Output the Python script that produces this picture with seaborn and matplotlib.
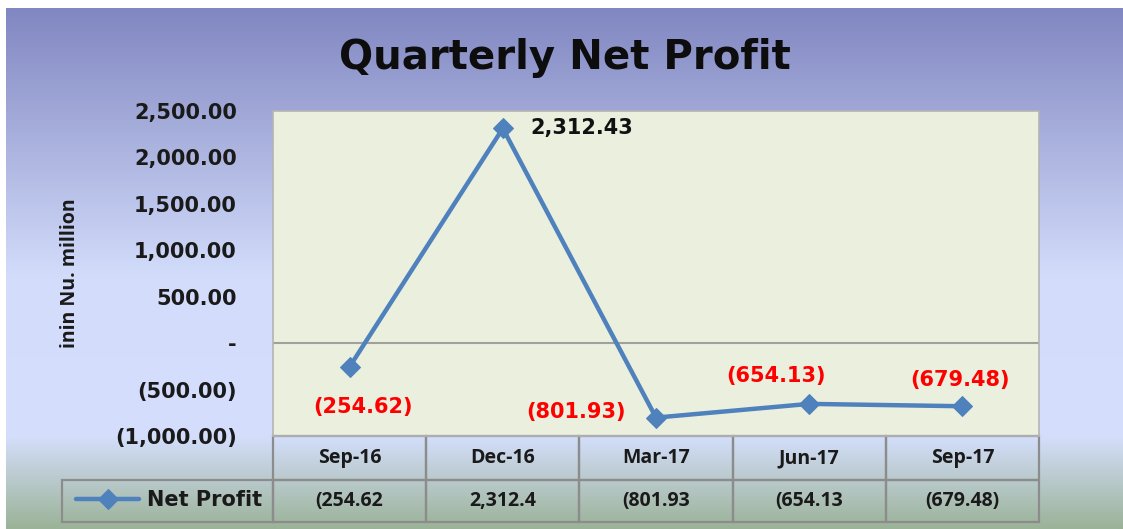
import numpy as np
import matplotlib
matplotlib.use("Agg")
import matplotlib.pyplot as plt
from matplotlib.colors import LinearSegmentedColormap
from matplotlib.table import Table
from matplotlib.ticker import FuncFormatter
import seaborn as sns

# data
quarters = ["Sep-16", "Dec-16", "Mar-17", "Jun-17", "Sep-17"]
net_profit = [-254.62, 2312.43, -801.93, -654.13, -679.48]
# the data table row shows the values cut off like this in the original
table_text = ["(254.62", "2,312.4", "(801.93", "(654.13", "(679.48)"]
series_name = "Net Profit"
y_ticks = [-1000, -500, 0, 500, 1000, 1500, 2000, 2500]

# label offsets in pixels (dx, dy) and horizontal alignment per point
label_offsets = [(13, -40), (28, 0), (-30, 6), (-33, 28), (-2, 26)]
label_align = ["center", "left", "right", "center", "center"]

line_color = "#4F81BD"
W, H = 1123, 529
narrow_font = ["Open Sans", "DejaVu Sans"]


def fmt_num(v, pos=None):
    if v == 0:
        return "-"
    s = f"{abs(v):,.2f}"
    return f"({s})" if v < 0 else s


sns.set_theme(style="white")
plt.rcParams["font.family"] = ["DejaVu Sans"]

fig = plt.figure(figsize=(W / 100, H / 100), dpi=100)
fig.patch.set_facecolor("white")

# gradient background of the chart area
bg = fig.add_axes([6 / W, 0, 1 - 6 / W, 1 - 8 / H], zorder=-10)
cmap = LinearSegmentedColormap.from_list(
    "bg", [(0.0, "#8187C1"), (0.52, "#D3DDFB"), (0.82, "#D5DFFD"), (1.0, "#9BB398")])
grad = np.linspace(0, 1, 256).reshape(-1, 1)
bg.imshow(grad, cmap=cmap, aspect="auto", extent=[0, 1, 0, 1], origin="upper")
bg.set_axis_off()

# plot area
ax_l, ax_r, ax_t, ax_b = 273, 1039, 111, 436
ax = fig.add_axes([ax_l / W, 1 - ax_b / H, (ax_r - ax_l) / W, (ax_b - ax_t) / H])
ax.set_facecolor("#EBEFDD")

x = np.arange(len(quarters))
sns.lineplot(x=x, y=net_profit, ax=ax, sort=False, color=line_color, linewidth=3.2,
             marker="D", markersize=10, markeredgecolor=line_color,
             label=series_name, zorder=3)
ax.axhline(0, color="#A0A0A0", linewidth=1.5, zorder=1)

ax.set_xlim(-0.5, len(quarters) - 0.5)
ax.set_ylim(-1000, 2500)
ax.set_xticks([])
ax.set_yticks(y_ticks)
ax.yaxis.set_major_formatter(FuncFormatter(fmt_num))
ax.tick_params(axis="y", length=0, pad=26, labelsize=15, colors="#1a1a1a")
for t in ax.get_yticklabels():
    t.set_fontweight("bold")
for sp in ax.spines.values():
    sp.set_color("#B4B4B4")
    sp.set_linewidth(1.2)

ax.set_ylabel("inin Nu. million", fontsize=14, fontweight="bold", family=narrow_font,
              color="#1a1a1a")
ax.yaxis.set_label_coords((80 - ax_l) / (ax_r - ax_l), 0.5)

# data labels
for xi, v, off, ha in zip(x, net_profit, label_offsets, label_align):
    ax.annotate(fmt_num(v), (xi, v), xytext=off, textcoords="offset pixels",
                ha=ha, va="center", fontsize=15, fontweight="bold",
                color="#FF0000" if v < 0 else "#111111", zorder=4)

# data table under the plot
col_w = (ax_r - ax_l) / len(quarters)
tbl = Table(ax, bbox=[(62 - ax_l) / (ax_r - ax_l), -(522 - ax_b) / (ax_b - ax_t),
                      (ax_r - 62) / (ax_r - ax_l), (522 - ax_b) / (ax_b - ax_t)])
for j, q in enumerate(quarters):
    tbl.add_cell(0, j + 1, width=col_w, height=44, text=q, loc="center", facecolor="none")
    tbl.add_cell(1, j + 1, width=col_w, height=42, text=table_text[j], loc="center", facecolor="none")
tbl.add_cell(1, 0, width=211, height=42, text="", facecolor="none")
tbl.auto_set_font_size(False)
tbl.set_fontsize(14)
for cell in tbl.get_celld().values():
    cell.set_edgecolor("#8C8C8C")
    cell.set_linewidth(1.6)
    cell.get_text().set_fontweight("bold")
    cell.get_text().set_family(narrow_font)
    cell.get_text().set_color("#1a1a1a")
tbl.set_clip_on(False)
ax.add_table(tbl)

# legend key inside the first table cell
leg = ax.legend(loc="center left", bbox_to_anchor=(66 / W, 1 - 500 / H),
                bbox_transform=fig.transFigure, frameon=False, handlelength=3.0,
                handletextpad=0.4, borderpad=0, prop={"weight": "bold", "size": 15})
for t in leg.get_texts():
    t.set_color("#1a1a1a")

fig.text(0.503, 1 - 58 / H, "Quarterly Net Profit", ha="center", va="center",
         fontsize=29, fontweight="bold", color="#0d0d0d")

fig.savefig("out.png", dpi=100)
